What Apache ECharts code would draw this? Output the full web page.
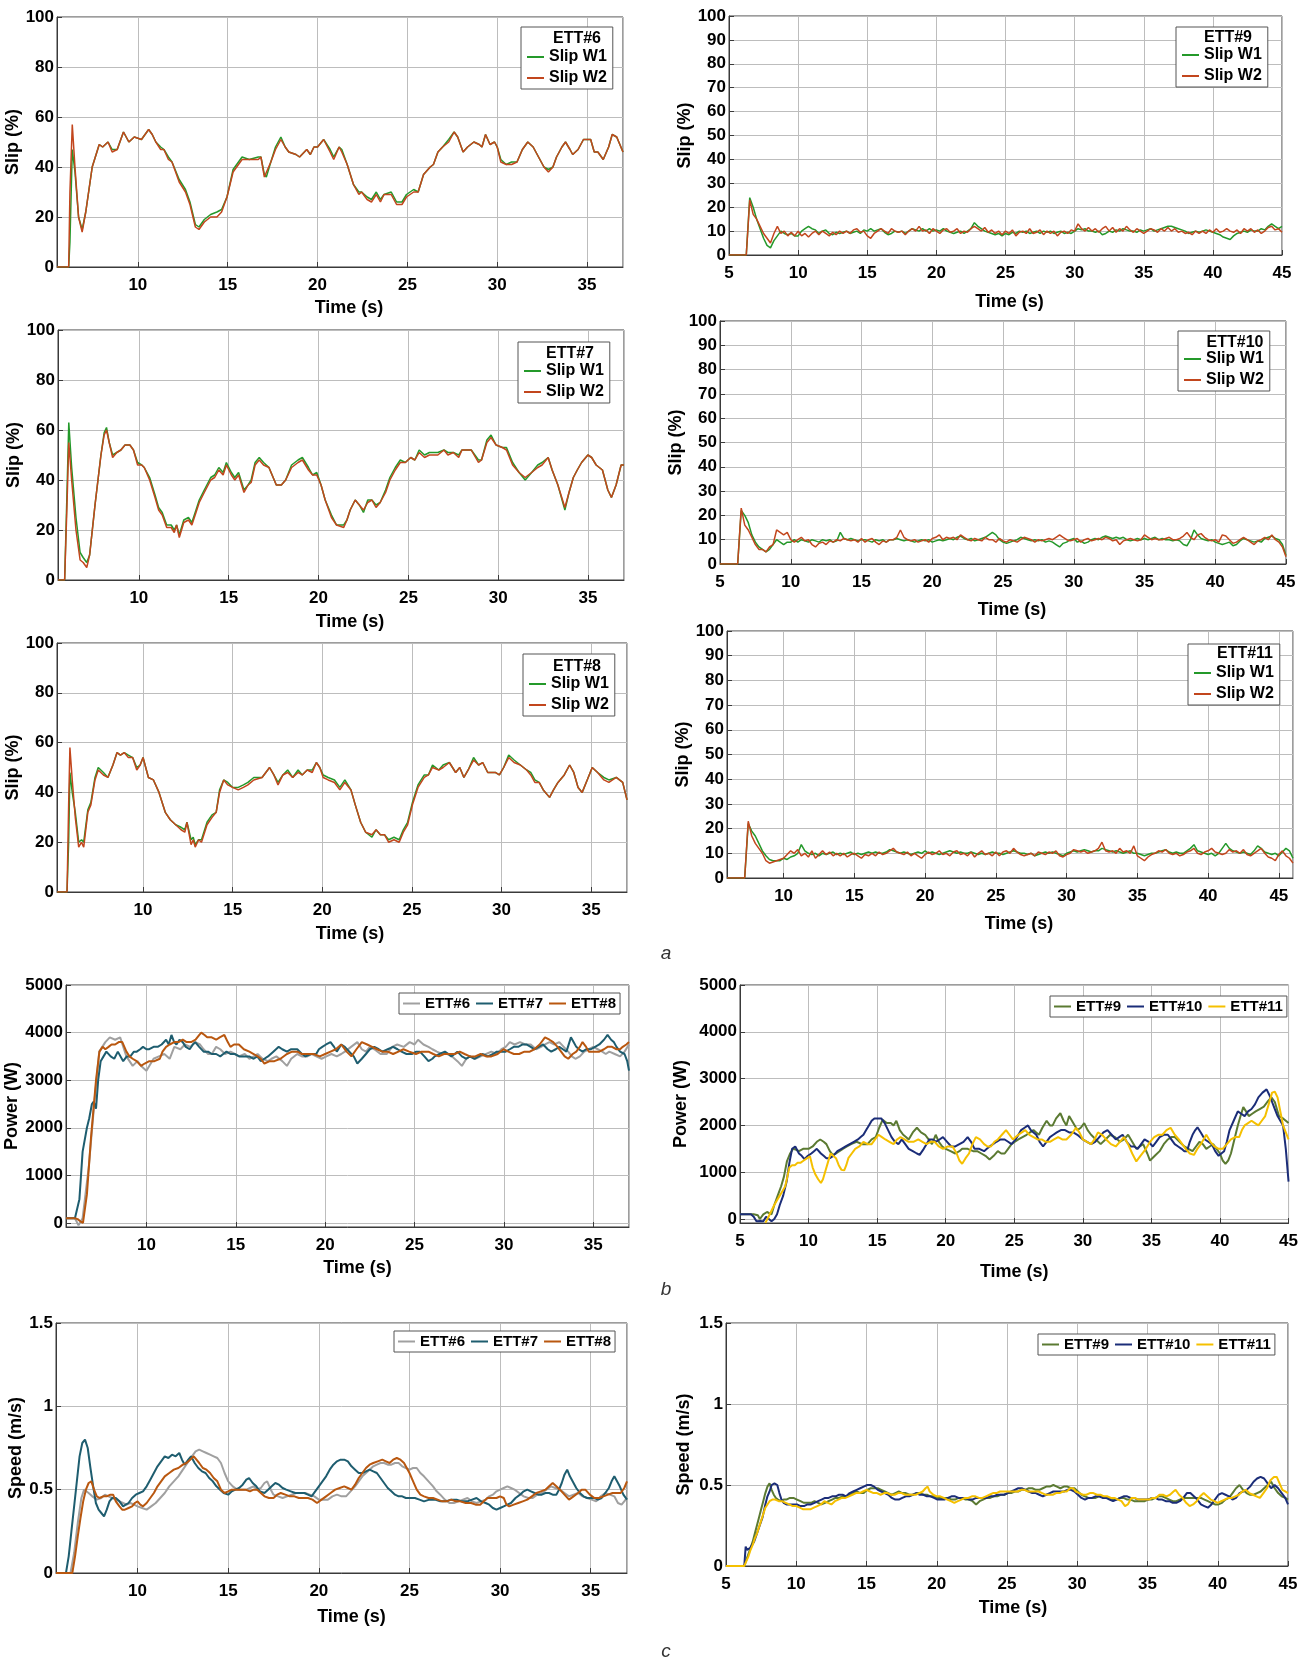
<!DOCTYPE html>
<html><head><meta charset="utf-8">
<script src="https://cdn.jsdelivr.net/npm/echarts@6/dist/echarts.min.js"></script>
<style>html,body{margin:0;padding:0;background:#fff}#c{width:1301px;height:1661px}</style>
</head><body><div id="c"></div>
<script>
// ---------------- DATA ----------------
// ETT#6 slip (time, W1, W2)
const ett6_t = [5.5,6.15,6.22,6.35,6.5,6.7,6.9,7.1,7.46,7.85,8.04,8.34,8.57,8.85,9.2,9.5,9.8,10.2,10.6,10.8,11.0,11.27,11.45,11.7,11.9,12.3,12.65,12.9,13.2,13.4,13.7,14.05,14.4,14.66,14.96,15.3,15.6,15.8,16.2,16.7,16.85,17.04,17.15,17.4,17.66,17.96,18.2,18.4,18.8,19.0,19.4,19.6,19.8,20.0,20.34,20.7,20.9,21.2,21.35,21.65,22.0,22.3,22.45,22.76,23.0,23.27,23.5,23.7,24.1,24.4,24.7,24.95,25.35,25.6,25.9,26.27,26.45,26.7,26.96,27.3,27.6,27.8,28.1,28.35,28.7,29.0,29.15,29.35,29.6,29.85,30.0,30.2,30.5,30.8,31.1,31.4,31.7,32.0,32.3,32.6,32.85,33.1,33.3,33.6,33.8,34.05,34.2,34.5,34.8,35.2,35.4,35.6,35.9,36.2,36.4,36.65,37.0];
const ett6_w2 = [0,0,30,57,40,20,14,22,40,49,48,50,46,47,54,50,52,51,55,53,50,47,47,43,42,34,30,25,16,15,18,20,20,22,28,38,41,43,43,43,44,36,36,42,47,51,48,46,45,44,47,45,48,48,51,46,43,48,46,41,33,29,30,27,26,29,26,29,29,25,25,28,30,30,37,40,41,46,48,50,54,52,46,48,50,49,48,53,49,50,48,42,41,41,42,47,50,48,44,40,38,40,44,48,50,47,45,47,51,51,46,46,43,48,53,52,46];
const ett6_w1 = [0,0,10,47,38,20,15,22,40,49,48,50,47,47,54,50,52,51,55,53,50,48,47,44,42,35,31,26,17,16,19,21,22,23,28,39,42,44,43,44,44,37,36,42,48,52,48,46,45,44,47,45,48,48,51,47,44,48,47,41,33,30,30,28,27,30,27,29,30,26,26,29,31,30,37,40,41,46,48,51,54,52,46,48,50,49,48,53,49,50,48,43,41,42,42,47,50,48,44,40,39,40,44,48,50,47,45,47,51,51,46,46,43,48,53,52,46];

// ETT#7 slip
const ett7_t = [5.5,5.87,6.0,6.1,6.26,6.5,6.73,6.9,7.1,7.26,7.56,7.89,8.07,8.2,8.35,8.54,8.77,9.0,9.23,9.5,9.7,9.93,10.16,10.3,10.6,10.9,11.1,11.3,11.55,11.8,11.97,12.1,12.25,12.5,12.76,12.95,13.18,13.36,13.64,14.0,14.22,14.45,14.69,14.87,15.15,15.34,15.55,15.85,16.08,16.25,16.47,16.7,16.94,17.24,17.65,17.93,18.17,18.5,18.86,19.1,19.44,19.67,19.9,20.14,20.37,20.72,21.0,21.4,21.58,21.76,22.04,22.27,22.5,22.74,22.97,23.2,23.43,23.73,23.97,24.27,24.55,24.83,25.13,25.36,25.6,25.9,26.17,26.64,26.98,27.2,27.5,27.8,27.98,28.5,28.9,29.07,29.37,29.6,29.88,30.23,30.46,30.8,31.16,31.5,31.86,32.2,32.44,32.78,33.0,33.32,33.71,33.94,34.18,34.4,34.64,34.99,35.2,35.45,35.8,36.1,36.3,36.56,36.84,37.0];
const ett7_w2 = [0,0,30,55,40,20,8,7,5,10,30,50,58,60,55,49,51,52,54,54,52,46,46,45,40,33,28,26,21,21,19,22,17,23,24,22,27,31,35,40,41,44,42,46,42,40,42,35,38,39,46,48,46,45,38,38,40,45,47,48,44,42,42,38,32,25,22,21,24,28,32,30,28,31,32,29,31,35,40,44,47,47,49,48,51,49,50,50,52,50,51,49,52,52,47,48,55,57,54,53,52,46,43,41,43,45,46,49,44,38,29,35,41,44,47,50,49,46,44,36,33,38,46,46];
const ett7_w1 = [0,0,35,63,45,25,11,9,7,10,30,50,59,61,55,50,51,52,54,54,52,47,46,45,41,34,29,27,22,22,20,22,18,24,25,23,28,32,36,41,42,45,43,47,43,41,43,36,38,40,47,49,47,45,38,38,40,46,48,49,45,42,43,38,32,26,22,22,24,28,32,30,27,32,32,30,31,36,41,45,48,47,49,48,52,50,51,51,52,51,51,50,52,52,48,48,56,58,54,53,53,47,43,40,43,46,47,49,44,38,28,35,41,44,47,50,49,46,44,36,33,38,46,46];

// ETT#8 slip
const ett8_t = [5.2,5.76,5.85,5.92,6.05,6.22,6.41,6.57,6.69,6.92,7.09,7.32,7.5,7.79,8.04,8.32,8.55,8.74,8.95,9.18,9.42,9.65,9.84,10.0,10.3,10.58,10.89,11.24,11.52,11.82,12.12,12.33,12.45,12.68,12.8,12.91,13.1,13.26,13.57,13.85,14.08,14.27,14.5,14.73,15.0,15.31,15.6,15.85,16.18,16.64,17.06,17.3,17.53,17.8,18.07,18.35,18.65,18.88,19.16,19.44,19.67,19.86,20.05,20.33,20.68,20.98,21.26,21.6,21.84,22.14,22.42,22.77,23.0,23.24,23.47,23.7,24.0,24.29,24.52,24.76,25.03,25.34,25.69,25.92,26.15,26.5,26.74,27.09,27.44,27.67,27.9,28.14,28.44,28.72,28.95,29.23,29.65,29.88,30.12,30.4,30.7,31.05,31.4,31.63,31.86,32.1,32.33,32.68,32.9,33.15,33.5,33.8,34.03,34.27,34.5,34.78,35.06,35.36,35.71,35.99,36.4,36.76,37.0];
const ett8_w2 = [0,0,35,58,45,30,18,20,18,32,35,45,49,47,46,51,56,55,56,54,54,49,51,54,46,45,40,32,29,27,25,24,28,19,21,18,21,20,27,30,32,40,45,43,42,41,42,43,45,46,50,47,43,47,48,46,48,47,49,48,52,50,46,45,44,41,44,41,35,28,24,23,25,23,23,20,21,20,24,27,35,42,46,47,50,49,50,52,48,50,46,49,53,51,52,48,48,47,50,54,52,51,49,47,44,44,41,38,41,44,47,51,48,42,40,45,50,48,45,44,46,44,37];
const ett8_w1 = [0,0,20,48,40,32,20,21,20,33,36,46,50,48,46,51,56,55,56,55,54,50,51,54,46,45,40,32,29,27,26,25,28,21,22,19,21,21,28,31,32,41,45,44,42,42,43,44,46,46,50,47,44,47,49,46,49,47,49,49,52,50,47,46,45,42,45,41,35,28,24,22,25,23,23,21,22,21,25,28,36,43,47,47,51,49,51,52,48,50,46,49,54,51,52,48,48,47,50,55,53,51,49,48,45,44,41,38,41,44,47,51,48,42,40,45,50,48,46,45,46,44,37];

// ETT#9 / #10 / #11 slip, sampled every 0.25 s
const ett9_start = 5, ett10_start = 5, ett11_start = 6, slipStep = 0.25;
const ett9_w2 = [0,0,0,0,0,0,23,17,15,12,9,7,5,9,12,9,10,8,9.5,8,10,
 8,9,7.5,9, 10,8.5,10,9, 8,9.5,8.5,10, 9,10,9,10.5, 11,9.5,10,8, 7,9,10,11, 10,9,11,10, 9.5,10,8.5,10, 11,10,12,10, 10.5,9,11,10,
 9,10.5,11,9.5, 10,11,9,10, 9.5,11,12,11, 10,11.5,9.5,10.5, 9,10,8.5,10, 9,10.5,8,9.5, 10,9,11,9, 9.5,10.5,8.5,10, 9,10,8,9.5, 10,9,10.5,10,
 13,11,10,11.5, 10,11,9.5,11, 12,10,11.5,9.5, 11,10,12,10.5, 9.5,11,10,9, 10,11,10.5,9.5, 11,10,11.5,10, 11,9.5,10,9, 9.5,8.5,10,9, 10,9,10.5,9.5,
 11,9.5,10,11, 10,9.5,10.5,9, 11,10,11,9.5, 10.5,9,10,11.5, 12,10.5,11,9.5];
const ett9_w1 = [0,0,0,0,0,0,24,20,15,11,7,4,3,6,8,10,9,8.5,9,8,8,
 10,11,12,11, 10.5,9,10,10.5, 9,8.5,9.5,9, 9.5,10,9,9.5, 10,9,10.5,10, 11,10,10.5,11, 9.5,8.5,9,10, 9.5,10,9,10, 11,10.5,10,11, 10,11,10,10.5,
 10,11,10,9.5, 9,9.5,10,9, 10,11,13.5,12, 11,10,9.5,9, 8.5,9,8,9, 8.5,9.5,9,10, 9.5,10,9,9.5, 10,9,10,9.5, 10,9,9.5,10, 9,9.5,9,10,
 11,10.5,11,10, 10,9.5,10,8.5, 9,10,9.5,10.5, 10,11,10.5,10, 10,9.5,10.5,10, 10.5,11,10,10.5, 11,11.5,12,12, 11.5,11,10.5,10, 9,9.5,10,9.5, 10,10.5,10,9.5,
 9,8.5,7.5,7, 6.5,8,9,9.5, 10,9.5,10.5,10, 10,11,10.5,12, 13,12,11,12];
const ett10_w2 = [0,0,0,0,0,0,23,16,14,11,8,6,6,5,7,8,14,13,12,13,10,
 9,10,11,9.5, 10,8,7,8.5, 9,8,9.5,9, 10,9.5,10.5,10, 9.5,10,9,10.5, 9,10,10.5,9, 8,9.5,9,10, 10,11,14,11, 10,9.5,10,9, 9.5,10,9,10.5,
 11,12,10,11, 10.5,11,10,12, 11,10,9.5,10.5, 10,9.5,11,10, 10,9,10.5,9.5, 9,10,9.5,9, 10,11,10.5,10, 9,10,9.5,10, 10.5,10,11,12, 11,10,9.5,10,
 10.5,9,10,10.5, 9.5,10,10.5,10, 11,10.5,9.5,10, 8,9.5,10,10.5, 10,9.5,10,12, 11,10,10.5,10, 10,10.5,11,10, 10,10.5,11.5,13, 11,10,12,12.5, 11,10,9.5,10,
 9,12,11.5,10, 8.5,9,10,11, 10,9,8,9.5, 10,11,10,12, 10,9,7,3];
const ett10_w1 = [0,0,0,0,0,0,22,20,17,12,9,7,6,5,6,8,10,9,8,9,9,
 10,9,10,9.5, 9,10,9.5,9, 10,9.5,10,9, 9.5,13,10.5,10, 10.5,10,9.5,10, 10,9.5,9,10, 9.5,10,9,10, 10,10.5,10,9.5, 10,9.5,9,9.5, 10,9.5,10,9,
 9.5,10,9.5,10, 10.5,10,11,11.5, 10.5,10,10.5,9.5, 10,10.5,11,12, 13,12,10,9, 8.5,9,9.5,10, 11,10.5,10,9.5, 10,9.5,10,9, 9.5,9,8,7, 8.5,9,10,10.5,
 9,9.5,8.5,9, 10,10.5,10,11, 11.5,11,10.5,11, 10.5,11,10,9.5, 10,10.5,10,10.5, 10,10.5,11,10, 10.5,10,10,9.5, 10,9.5,8,7.5, 10,14,12,10.5, 10,9.5,10,9,
 8.5,8,8.5,9, 7.5,8,9.5,10.5, 10,9.5,9,9.5, 9,10.5,11,11.5, 10.5,10,8,3.5];
const ett11_w2 = [0,0,0,0,0,0,23,17,14,12,10,7,6,6.5,7,7.5,8,
 9.5,11,10,11.5, 9,10,8.5,11, 8,9.5,11,9.5, 10.5,9,10,9, 10,8.5,9.5,10, 9,8,9.5,9, 10,9,10.5,9.5, 10,11,12,10.5, 10,9.5,10.5,9, 10,9,8,9.5,
 10.5,9.5,10,11, 9.5,10,9,10.5, 11,9.5,10,9, 10.5,8.5,10,11, 9.5,10,9,10.5, 9,10.5,11,10, 12,10.5,9.5,9, 9.5,10,9,10.5, 10,9.5,10.5,10, 11,9,8.5,9.5,
 10,11.5,11,10.5, 11,10,10.5,11, 12,14.5,11,10.5, 11,10,12,10.5, 11,10,13,9, 8,7,8.5,9.5, 10,11,10.5,11.5, 10,9.5,10,9, 9.5,10.5,11,12, 10,9.5,10.5,11,
 12,10.5,10,9.5, 10,11.5,10.5,11, 10,11.5,9.5,9, 10,11,12,10, 8.5,8,7,9.5, 11,9,8,6];
const ett11_w1 = [0,0,0,0,0,0,22,19,17,14,11,9,7.5,7,7,7,8,
 7.5,8.5,9,10, 13.5,11,10,9.5, 10,9,10,9.5, 10,10.5,9.5,10, 9.5,10,10.5,9.5, 10,9.5,10,10.5, 10,10.5,10,10, 10.5,11.5,11,10.5, 10,10.5,10,9.5, 10,10.5,10,11,
 10,10.5,10,9.5, 10,10.5,11,10.5, 10,10.5,10,10, 10.5,10,9.5,10, 9.5,10,10.5,10, 10,9.5,10,10.5, 11,10.5,10,10, 9.5,10,9,9.5, 10,10.5,10,10.5, 10,9.5,9,10,
 10.5,11,10.5,11, 11.5,11,10.5,11, 11,12,11.5,11, 10.5,11,10.5,10, 10.5,11,10,10, 9.5,9,9.5,10, 10,10.5,11,11.5, 10.5,10,10.5,10, 10,11,12,13.5, 11,10.5,10,9.5,
 10,9,10,12, 14,12,11,10.5, 10,10.5,10,9.5, 11,13,12,10.5, 10,9.5,10,9, 10.5,12,11,8];

// Power (W): [time, value]
const pow6 = [[5.5,100],[6.0,100],[6.2,-50],[6.43,100],[6.78,1200],[7.08,2500],[7.36,3600],[7.7,3800],[7.95,3900],[8.25,3850],[8.53,3900],[8.88,3500],[9.23,3300],[9.5,3400],[9.7,3300],[10.0,3200],[10.4,3450],[10.7,3500],[11.0,3550],[11.3,3450],[11.56,3700],[11.9,3650],[12.15,3750],[12.45,3700],[12.73,3800],[13.0,3750],[13.2,3650],[13.45,3550],[13.66,3550],[13.9,3700],[14.13,3650],[14.4,3550],[14.7,3600],[14.95,3550],[15.17,3500],[15.5,3550],[15.76,3450],[16.0,3500],[16.22,3550],[16.5,3450],[16.8,3400],[17.0,3450],[17.27,3500],[17.6,3400],[17.86,3300],[18.1,3450],[18.44,3550],[18.7,3500],[19.0,3500],[19.25,3550],[19.5,3500],[19.8,3450],[20.07,3500],[20.35,3550],[20.65,3500],[20.9,3550],[21.1,3600],[21.45,3700],[21.8,3800],[22.05,3650],[22.28,3600],[22.5,3700],[22.75,3650],[23.1,3550],[23.45,3550],[23.75,3700],[24.03,3750],[24.4,3700],[24.73,3800],[25.0,3750],[25.2,3850],[25.5,3750],[25.78,3700],[26.0,3650],[26.25,3600],[26.55,3550],[26.83,3550],[27.1,3500],[27.4,3400],[27.65,3300],[27.9,3450],[28.1,3500],[28.4,3450],[28.7,3500],[29.0,3550],[29.3,3600],[29.6,3550],[29.86,3650],[30.1,3700],[30.33,3800],[30.6,3750],[30.9,3800],[31.2,3750],[31.5,3750],[31.8,3650],[32.08,3700],[32.3,3750],[32.55,3800],[32.8,3750],[33.1,3800],[33.35,3700],[33.6,3600],[33.8,3500],[34.0,3450],[34.25,3500],[34.5,3600],[34.75,3650],[35.0,3700],[35.25,3650],[35.5,3600],[35.7,3550],[35.9,3600],[36.2,3550],[36.5,3500],[36.75,3600],[37.0,3750]];
const pow7 = [[5.5,100],[6.0,100],[6.08,100],[6.25,500],[6.43,1500],[6.67,2000],[6.8,2200],[6.95,2500],[7.05,2550],[7.18,2400],[7.3,3000],[7.44,3400],[7.6,3500],[7.76,3600],[8.0,3500],[8.2,3450],[8.4,3600],[8.7,3400],[8.9,3500],[9.1,3500],[9.3,3600],[9.46,3600],[9.65,3650],[9.81,3700],[10.0,3650],[10.16,3650],[10.4,3700],[10.63,3700],[10.85,3750],[11.1,3850],[11.25,3750],[11.4,3950],[11.55,3800],[11.68,3750],[11.85,3850],[12.03,3800],[12.2,3700],[12.42,3650],[12.6,3750],[12.73,3800],[12.95,3700],[13.2,3600],[13.45,3600],[13.66,3550],[13.9,3550],[14.13,3500],[14.3,3550],[14.48,3600],[14.7,3550],[14.94,3550],[15.2,3500],[15.5,3500],[15.75,3500],[16.0,3450],[16.2,3500],[16.4,3400],[16.6,3450],[16.8,3500],[17.1,3600],[17.4,3700],[17.6,3650],[17.86,3600],[18.1,3650],[18.44,3650],[18.7,3550],[18.9,3500],[19.2,3550],[19.5,3550],[19.65,3650],[19.84,3700],[20.05,3750],[20.3,3800],[20.5,3700],[20.65,3600],[20.9,3750],[21.1,3700],[21.35,3600],[21.6,3500],[21.8,3350],[22.05,3450],[22.28,3550],[22.5,3650],[22.75,3700],[23.0,3650],[23.2,3600],[23.5,3650],[23.8,3700],[24.05,3650],[24.27,3600],[24.55,3550],[24.85,3550],[25.1,3600],[25.3,3600],[25.55,3500],[25.78,3400],[26.0,3450],[26.13,3500],[26.4,3550],[26.7,3600],[26.9,3550],[27.06,3500],[27.25,3550],[27.4,3600],[27.65,3500],[27.9,3450],[28.1,3500],[28.35,3450],[28.6,3500],[28.8,3550],[29.1,3500],[29.4,3550],[29.6,3600],[29.86,3600],[30.1,3600],[30.33,3650],[30.55,3700],[30.8,3700],[31.05,3750],[31.26,3750],[31.5,3700],[31.7,3650],[31.95,3700],[32.2,3750],[32.45,3650],[32.65,3600],[32.9,3650],[33.1,3700],[33.3,3650],[33.5,3600],[33.75,3900],[33.9,3800],[34.05,3700],[34.2,3650],[34.4,3600],[34.6,3650],[34.87,3650],[35.1,3700],[35.34,3750],[35.6,3850],[35.8,3950],[36.0,3850],[36.15,3800],[36.3,3700],[36.5,3600],[36.75,3550],[36.9,3400],[37.0,3200]];
const pow8 = [[5.5,100],[6.0,100],[6.15,80],[6.32,30],[6.45,0],[6.67,600],[6.9,1800],[7.18,3000],[7.37,3600],[7.55,3700],[7.7,3650],[7.88,3700],[8.05,3750],[8.25,3750],[8.45,3800],[8.65,3800],[8.88,3600],[9.05,3500],[9.23,3450],[9.45,3400],[9.7,3300],[9.9,3350],[10.16,3400],[10.45,3400],[10.75,3450],[10.9,3600],[11.1,3700],[11.3,3750],[11.56,3800],[11.8,3800],[12.03,3850],[12.25,3800],[12.5,3800],[12.75,3850],[12.96,3950],[13.07,4000],[13.25,3950],[13.4,3900],[13.65,3900],[13.9,3850],[14.1,3900],[14.36,3950],[14.55,3800],[14.7,3700],[14.9,3750],[15.17,3750],[15.45,3650],[15.76,3600],[16.0,3550],[16.22,3500],[16.4,3450],[16.6,3350],[16.9,3400],[17.16,3400],[17.5,3450],[17.86,3550],[18.15,3600],[18.44,3600],[18.7,3550],[19.0,3550],[19.35,3550],[19.7,3500],[20.0,3550],[20.3,3600],[20.6,3650],[20.9,3750],[21.2,3600],[21.47,3500],[21.75,3650],[22.05,3800],[22.35,3750],[22.63,3700],[22.9,3650],[23.2,3600],[23.5,3600],[23.8,3550],[24.1,3600],[24.38,3650],[24.7,3600],[25.08,3550],[25.4,3600],[25.78,3600],[26.05,3550],[26.36,3500],[26.65,3550],[26.95,3550],[27.25,3550],[27.53,3600],[27.8,3550],[28.1,3500],[28.4,3500],[28.7,3550],[29.0,3500],[29.3,3500],[29.65,3550],[29.98,3650],[30.25,3600],[30.56,3550],[30.85,3550],[31.15,3600],[31.45,3600],[31.7,3650],[32.0,3750],[32.3,3900],[32.55,3850],[32.76,3800],[33.0,3700],[33.2,3600],[33.4,3500],[33.6,3450],[33.85,3550],[34.05,3600],[34.25,3700],[34.4,3800],[34.6,3700],[34.75,3600],[35.0,3600],[35.34,3600],[35.6,3650],[35.8,3700],[36.05,3700],[36.3,3650],[36.5,3650],[36.65,3700],[36.85,3750],[37.0,3800]];
const pow9 = [[5,100],[6.0,100],[6.3,80],[6.45,0],[6.7,100],[6.97,150],[7.3,100],[7.5,300],[7.75,500],[8.0,700],[8.2,900],[8.42,1230],[8.65,1400],[8.88,1500],[9.1,1480],[9.3,1450],[9.6,1500],[10.0,1500],[10.3,1550],[10.6,1650],[10.85,1700],[11.1,1650],[11.3,1600],[11.55,1450],[11.76,1370],[12.0,1400],[12.25,1450],[12.5,1500],[12.8,1550],[13.1,1600],[13.5,1650],[13.9,1600],[14.3,1600],[14.6,1700],[14.9,1750],[15.15,1950],[15.4,2120],[15.7,2050],[16.0,2050],[16.2,2000],[16.4,2100],[16.65,1900],[16.9,1800],[17.1,1750],[17.3,1700],[17.6,1850],[17.9,1950],[18.2,1850],[18.5,1800],[18.75,1700],[19.0,1600],[19.27,1800],[19.5,1650],[19.75,1550],[20.0,1500],[20.35,1450],[20.7,1400],[21.0,1450],[21.2,1500],[21.6,1500],[22.0,1450],[22.3,1450],[22.6,1400],[22.9,1350],[23.2,1270],[23.5,1350],[23.8,1450],[24.05,1400],[24.3,1400],[24.55,1500],[24.8,1600],[25.05,1650],[25.3,1700],[25.6,1750],[25.9,1800],[26.15,1850],[26.4,1900],[26.6,1850],[26.8,1800],[27.05,1950],[27.36,2100],[27.6,2000],[27.8,2000],[28.05,2150],[28.36,2260],[28.6,2100],[28.8,2000],[29.0,2200],[29.3,2050],[29.6,1900],[29.85,1950],[30.1,2050],[30.35,1900],[30.6,1800],[30.95,1700],[31.3,1600],[31.65,1700],[32.0,1800],[32.35,1750],[32.7,1650],[33.0,1700],[33.3,1800],[33.6,1650],[33.9,1500],[34.15,1550],[34.4,1600],[34.7,1400],[34.9,1250],[35.25,1350],[35.6,1450],[35.9,1600],[36.2,1700],[36.45,1750],[36.7,1750],[37.05,1650],[37.4,1550],[37.7,1500],[38.0,1450],[38.25,1550],[38.5,1650],[38.75,1600],[39.0,1500],[39.25,1550],[39.5,1600],[39.75,1500],[40.0,1400],[40.2,1250],[40.4,1180],[40.6,1250],[40.8,1400],[41.05,1700],[41.3,2000],[41.5,2200],[41.7,2390],[41.9,2300],[42.1,2200],[42.35,2250],[42.6,2300],[42.9,2350],[43.2,2400],[43.45,2500],[43.75,2600],[44.0,2500],[44.3,2200],[44.6,2150],[44.8,2100],[45,2050]];
const pow10 = [[5,100],[5.8,100],[6.0,50],[6.2,-50],[6.5,-40],[6.7,-50],[6.9,50],[7.1,0],[7.3,-50],[7.5,0],[7.7,100],[7.9,300],[8.15,500],[8.4,800],[8.6,1200],[8.8,1500],[9.03,1550],[9.3,1400],[9.5,1350],[9.7,1280],[9.95,1350],[10.2,1400],[10.4,1450],[10.6,1500],[10.9,1400],[11.1,1350],[11.3,1300],[11.55,1300],[11.8,1350],[12.1,1450],[12.4,1500],[12.7,1550],[13.0,1600],[13.3,1650],[13.6,1700],[13.8,1750],[14.0,1800],[14.2,1900],[14.4,2000],[14.6,2100],[14.8,2150],[15.05,2150],[15.3,2150],[15.55,2050],[15.8,1900],[16.05,1750],[16.3,1650],[16.55,1600],[16.8,1700],[17.05,1600],[17.3,1500],[17.6,1450],[17.9,1400],[18.1,1370],[18.4,1500],[18.6,1600],[18.8,1700],[19.05,1700],[19.3,1650],[19.55,1700],[19.8,1750],[20.1,1650],[20.4,1550],[20.7,1550],[21.0,1600],[21.3,1650],[21.6,1750],[21.85,1650],[22.1,1500],[22.45,1500],[22.8,1450],[23.0,1500],[23.2,1550],[23.45,1600],[23.7,1650],[24.0,1700],[24.3,1700],[24.55,1650],[24.8,1600],[25.1,1700],[25.3,1800],[25.5,1900],[25.75,1950],[26.0,2000],[26.2,1900],[26.4,1850],[26.6,1800],[26.85,1650],[27.1,1550],[27.35,1650],[27.6,1750],[27.85,1800],[28.1,1850],[28.4,1900],[28.7,1900],[29.0,1850],[29.3,1850],[29.6,1800],[30.0,1700],[30.3,1650],[30.6,1600],[30.9,1650],[31.2,1750],[31.5,1850],[31.8,1900],[32.1,1800],[32.4,1700],[32.65,1750],[32.9,1800],[33.2,1650],[33.5,1550],[33.75,1550],[34.0,1500],[34.25,1600],[34.5,1700],[34.8,1650],[35.1,1550],[35.35,1650],[35.6,1750],[35.9,1800],[36.2,1800],[36.45,1700],[36.7,1600],[36.95,1550],[37.2,1500],[37.4,1450],[37.6,1450],[37.8,1650],[38.0,1800],[38.2,1900],[38.36,1960],[38.6,1850],[38.9,1700],[39.15,1650],[39.4,1600],[39.65,1450],[39.9,1350],[40.1,1400],[40.3,1450],[40.5,1650],[40.7,1900],[41.0,2100],[41.3,2300],[41.55,2250],[41.8,2200],[42.05,2300],[42.3,2350],[42.55,2450],[42.8,2600],[43.1,2700],[43.4,2770],[43.6,2650],[43.8,2500],[44.0,2350],[44.2,2200],[44.4,2100],[44.6,2000],[44.8,1500],[45,800]];
const pow11 = [[6.85,-80],[7.0,0],[7.25,150],[7.5,300],[7.7,400],[7.9,500],[8.1,600],[8.3,700],[8.45,900],[8.6,1100],[8.8,1150],[9.0,1150],[9.2,1200],[9.4,1200],[9.65,1250],[9.9,1300],[10.1,1340],[10.3,1100],[10.5,950],[10.7,850],[10.9,770],[11.05,850],[11.2,1000],[11.4,1200],[11.6,1400],[11.8,1350],[12.0,1300],[12.2,1150],[12.4,1050],[12.6,1040],[12.75,1150],[12.9,1300],[13.15,1400],[13.4,1500],[13.7,1550],[14.0,1650],[14.3,1600],[14.6,1600],[14.85,1700],[15.1,1800],[15.35,1750],[15.6,1700],[15.9,1650],[16.2,1600],[16.45,1700],[16.7,1750],[17.0,1700],[17.3,1650],[17.65,1650],[18.0,1700],[18.3,1650],[18.6,1600],[18.9,1650],[19.2,1650],[19.5,1550],[19.8,1500],[20.15,1550],[20.5,1550],[20.8,1400],[21.0,1250],[21.2,1180],[21.45,1300],[21.7,1400],[21.95,1600],[22.2,1750],[22.5,1700],[22.8,1600],[23.05,1550],[23.3,1550],[23.55,1650],[23.8,1700],[24.1,1800],[24.4,1900],[24.65,1800],[24.9,1700],[25.1,1750],[25.3,1800],[25.55,1850],[25.8,1900],[26.1,1800],[26.4,1750],[26.7,1700],[27.0,1700],[27.3,1650],[27.6,1650],[27.9,1700],[28.2,1750],[28.5,1700],[28.8,1700],[29.15,1800],[29.5,1950],[29.75,1850],[30.0,1700],[30.3,1650],[30.6,1600],[30.85,1700],[31.1,1850],[31.4,1800],[31.7,1700],[32.05,1600],[32.4,1550],[32.7,1650],[33.0,1750],[33.3,1600],[33.6,1400],[33.9,1230],[34.2,1350],[34.6,1500],[34.9,1650],[35.2,1750],[35.5,1800],[35.8,1800],[36.1,1900],[36.4,1950],[36.7,1800],[37.0,1700],[37.25,1600],[37.5,1500],[37.8,1400],[38.1,1370],[38.35,1500],[38.6,1600],[38.8,1700],[39.0,1800],[39.3,1650],[39.6,1550],[39.9,1500],[40.2,1500],[40.5,1600],[40.8,1700],[41.1,1750],[41.4,1750],[41.6,1900],[41.8,2000],[42.05,2050],[42.3,2100],[42.55,2050],[42.8,2000],[43.05,2100],[43.3,2200],[43.55,2450],[43.8,2700],[44.0,2720],[44.2,2600],[44.4,2300],[44.6,2000],[44.8,1850],[45,1700]];

// Speed (m/s): [time, value]
const spd6 = [[5.5,0],[6.3,0],[6.5,0.12],[6.7,0.3],[6.9,0.45],[7.05,0.5],[7.3,0.48],[7.5,0.46],[7.75,0.44],[8.0,0.45],[8.2,0.47],[8.4,0.46],[8.6,0.45],[8.8,0.44],[9.0,0.43],[9.2,0.42],[9.4,0.41],[9.6,0.42],[9.8,0.41],[10.0,0.4],[10.25,0.39],[10.5,0.38],[10.75,0.4],[11.0,0.42],[11.25,0.45],[11.5,0.48],[11.75,0.52],[12.0,0.55],[12.25,0.58],[12.5,0.62],[12.75,0.66],[13.0,0.7],[13.2,0.73],[13.4,0.74],[13.6,0.73],[13.8,0.72],[14.0,0.71],[14.2,0.7],[14.4,0.69],[14.6,0.66],[14.8,0.6],[15.0,0.55],[15.25,0.52],[15.5,0.5],[15.75,0.5],[16.0,0.5],[16.2,0.51],[16.4,0.52],[16.6,0.5],[16.8,0.51],[17.0,0.54],[17.15,0.55],[17.35,0.5],[17.5,0.47],[17.75,0.46],[18.0,0.45],[18.25,0.46],[18.5,0.47],[18.75,0.48],[19.0,0.48],[19.25,0.48],[19.5,0.47],[19.75,0.46],[20.0,0.44],[20.25,0.44],[20.5,0.44],[20.75,0.46],[21.0,0.47],[21.25,0.46],[21.5,0.46],[21.75,0.49],[22.0,0.52],[22.2,0.55],[22.4,0.58],[22.6,0.6],[22.8,0.62],[23.0,0.64],[23.2,0.65],[23.4,0.66],[23.6,0.66],[23.8,0.65],[24.0,0.65],[24.2,0.66],[24.4,0.66],[24.6,0.64],[24.8,0.63],[25.0,0.62],[25.2,0.63],[25.4,0.63],[25.6,0.6],[25.8,0.58],[26.05,0.55],[26.3,0.52],[26.5,0.49],[26.7,0.47],[26.95,0.44],[27.2,0.42],[27.45,0.42],[27.7,0.43],[27.95,0.44],[28.2,0.45],[28.45,0.43],[28.7,0.42],[28.95,0.43],[29.2,0.44],[29.4,0.46],[29.6,0.47],[29.8,0.49],[30.0,0.5],[30.2,0.51],[30.4,0.52],[30.6,0.51],[30.8,0.5],[31.05,0.48],[31.3,0.46],[31.55,0.45],[31.8,0.45],[32.05,0.47],[32.3,0.48],[32.55,0.5],[32.8,0.52],[33.05,0.51],[33.3,0.5],[33.55,0.48],[33.8,0.46],[34.05,0.47],[34.3,0.48],[34.55,0.46],[34.8,0.45],[35.05,0.44],[35.3,0.43],[35.55,0.46],[35.8,0.48],[36.05,0.47],[36.3,0.46],[36.5,0.42],[36.7,0.41],[36.85,0.43],[37.0,0.45]];
const spd7 = [[5.5,0],[6.05,0],[6.2,0.1],[6.35,0.25],[6.5,0.4],[6.65,0.55],[6.8,0.7],[6.95,0.78],[7.1,0.8],[7.25,0.75],[7.4,0.63],[7.55,0.52],[7.7,0.42],[7.85,0.38],[8.0,0.36],[8.15,0.34],[8.3,0.38],[8.45,0.43],[8.6,0.45],[8.8,0.45],[9.0,0.43],[9.2,0.4],[9.35,0.41],[9.5,0.42],[9.7,0.45],[9.9,0.47],[10.1,0.48],[10.3,0.49],[10.5,0.52],[10.7,0.56],[10.9,0.6],[11.1,0.64],[11.3,0.67],[11.5,0.7],[11.7,0.69],[11.9,0.71],[12.1,0.7],[12.3,0.72],[12.45,0.68],[12.6,0.65],[12.8,0.68],[12.95,0.7],[13.15,0.66],[13.35,0.63],[13.55,0.61],[13.75,0.6],[13.95,0.57],[14.15,0.55],[14.35,0.52],[14.55,0.5],[14.75,0.48],[15.0,0.47],[15.2,0.49],[15.4,0.5],[15.6,0.51],[15.8,0.53],[16.0,0.56],[16.15,0.57],[16.35,0.54],[16.55,0.52],[16.75,0.49],[17.0,0.48],[17.2,0.5],[17.4,0.52],[17.6,0.54],[17.8,0.53],[18.0,0.51],[18.2,0.5],[18.45,0.49],[18.7,0.48],[18.95,0.48],[19.2,0.48],[19.4,0.47],[19.6,0.46],[19.8,0.49],[20.0,0.52],[20.2,0.55],[20.4,0.58],[20.6,0.62],[20.8,0.65],[21.0,0.67],[21.2,0.68],[21.4,0.68],[21.6,0.67],[21.8,0.64],[22.0,0.62],[22.2,0.6],[22.4,0.6],[22.6,0.61],[22.8,0.62],[23.0,0.61],[23.2,0.6],[23.4,0.57],[23.6,0.54],[23.8,0.51],[24.0,0.49],[24.2,0.47],[24.4,0.46],[24.6,0.46],[24.8,0.45],[25.05,0.45],[25.3,0.45],[25.55,0.44],[25.8,0.43],[26.1,0.44],[26.4,0.44],[26.7,0.43],[27.0,0.43],[27.3,0.44],[27.6,0.44],[27.9,0.43],[28.2,0.43],[28.45,0.44],[28.7,0.45],[28.95,0.43],[29.2,0.42],[29.4,0.41],[29.6,0.39],[29.8,0.38],[30.0,0.39],[30.2,0.4],[30.4,0.41],[30.6,0.42],[30.85,0.45],[31.1,0.47],[31.3,0.49],[31.5,0.5],[31.7,0.49],[31.9,0.48],[32.1,0.47],[32.3,0.47],[32.5,0.48],[32.7,0.48],[32.9,0.47],[33.1,0.47],[33.25,0.5],[33.4,0.54],[33.55,0.59],[33.7,0.62],[33.85,0.58],[34.0,0.55],[34.2,0.51],[34.4,0.48],[34.6,0.46],[34.8,0.45],[35.0,0.45],[35.2,0.45],[35.4,0.44],[35.6,0.45],[35.8,0.48],[36.0,0.51],[36.15,0.55],[36.3,0.58],[36.45,0.55],[36.6,0.52],[36.8,0.47],[37.0,0.44]];
const spd8 = [[5.5,0],[6.4,0],[6.55,0.1],[6.7,0.22],[6.85,0.33],[7.0,0.43],[7.15,0.5],[7.3,0.54],[7.45,0.55],[7.6,0.5],[7.75,0.46],[7.9,0.45],[8.1,0.46],[8.3,0.46],[8.5,0.47],[8.65,0.47],[8.8,0.43],[9.0,0.4],[9.15,0.38],[9.3,0.38],[9.5,0.39],[9.7,0.4],[9.85,0.42],[10.0,0.43],[10.15,0.41],[10.3,0.4],[10.5,0.42],[10.7,0.45],[10.9,0.48],[11.1,0.52],[11.3,0.55],[11.5,0.58],[11.75,0.6],[12.0,0.62],[12.25,0.63],[12.5,0.65],[12.7,0.66],[12.9,0.68],[13.1,0.7],[13.25,0.68],[13.4,0.66],[13.6,0.63],[13.8,0.62],[14.0,0.6],[14.2,0.57],[14.4,0.55],[14.6,0.5],[14.8,0.48],[15.0,0.49],[15.2,0.5],[15.45,0.5],[15.7,0.5],[15.95,0.5],[16.2,0.49],[16.4,0.5],[16.6,0.5],[16.8,0.48],[17.0,0.46],[17.25,0.45],[17.5,0.45],[17.7,0.47],[17.9,0.48],[18.15,0.47],[18.4,0.46],[18.65,0.46],[18.9,0.45],[19.15,0.45],[19.4,0.45],[19.65,0.44],[19.9,0.42],[20.15,0.44],[20.4,0.46],[20.65,0.48],[20.9,0.5],[21.15,0.51],[21.4,0.52],[21.6,0.51],[21.8,0.5],[22.0,0.53],[22.2,0.57],[22.4,0.6],[22.6,0.63],[22.8,0.65],[23.0,0.66],[23.25,0.67],[23.5,0.68],[23.7,0.67],[23.9,0.66],[24.1,0.68],[24.3,0.69],[24.5,0.68],[24.7,0.66],[24.85,0.63],[25.0,0.6],[25.2,0.55],[25.4,0.5],[25.6,0.47],[25.8,0.46],[26.05,0.45],[26.3,0.45],[26.55,0.44],[26.8,0.43],[27.05,0.43],[27.3,0.44],[27.55,0.43],[27.8,0.43],[28.1,0.42],[28.4,0.42],[28.65,0.41],[28.9,0.41],[29.1,0.43],[29.3,0.45],[29.55,0.45],[29.8,0.45],[30.0,0.46],[30.2,0.45],[30.35,0.41],[30.5,0.4],[30.75,0.41],[31.0,0.42],[31.25,0.43],[31.5,0.44],[31.75,0.46],[32.0,0.48],[32.25,0.49],[32.5,0.5],[32.7,0.52],[32.9,0.54],[33.1,0.52],[33.3,0.5],[33.55,0.47],[33.8,0.44],[34.05,0.46],[34.3,0.48],[34.5,0.5],[34.7,0.5],[34.95,0.47],[35.2,0.45],[35.45,0.45],[35.7,0.46],[35.95,0.47],[36.2,0.48],[36.45,0.48],[36.65,0.48],[36.85,0.51],[37.0,0.55]];
const spd9 = [[5,0],[6.3,0],[6.5,0.05],[6.7,0.1],[6.9,0.15],[7.05,0.2],[7.2,0.25],[7.35,0.3],[7.5,0.35],[7.65,0.4],[7.8,0.45],[7.95,0.49],[8.1,0.51],[8.25,0.47],[8.4,0.44],[8.55,0.42],[8.7,0.41],[8.9,0.4],[9.1,0.41],[9.3,0.41],[9.55,0.42],[9.8,0.42],[10.05,0.41],[10.3,0.4],[10.55,0.39],[10.8,0.39],[11.05,0.39],[11.3,0.4],[11.55,0.39],[11.8,0.38],[12.05,0.39],[12.3,0.4],[12.55,0.41],[12.8,0.42],[13.05,0.42],[13.3,0.43],[13.55,0.43],[13.8,0.44],[14.05,0.45],[14.3,0.46],[14.55,0.45],[14.8,0.45],[15.05,0.47],[15.3,0.48],[15.55,0.48],[15.8,0.48],[16.05,0.47],[16.3,0.46],[16.55,0.45],[16.8,0.44],[17.05,0.45],[17.3,0.46],[17.55,0.45],[17.8,0.45],[18.05,0.44],[18.3,0.44],[18.55,0.45],[18.8,0.45],[19.05,0.44],[19.3,0.44],[19.55,0.43],[19.8,0.43],[20.05,0.42],[20.3,0.42],[20.55,0.42],[20.8,0.42],[21.05,0.41],[21.3,0.41],[21.55,0.42],[21.8,0.42],[22.05,0.41],[22.3,0.41],[22.55,0.4],[22.8,0.38],[23.05,0.4],[23.3,0.41],[23.55,0.42],[23.8,0.42],[24.05,0.43],[24.3,0.43],[24.55,0.44],[24.8,0.44],[25.05,0.45],[25.3,0.45],[25.55,0.46],[25.8,0.46],[26.05,0.47],[26.3,0.47],[26.55,0.48],[26.8,0.48],[27.05,0.47],[27.3,0.47],[27.55,0.48],[27.8,0.49],[28.05,0.49],[28.3,0.5],[28.55,0.49],[28.8,0.48],[29.05,0.49],[29.3,0.49],[29.55,0.48],[29.8,0.48],[30.05,0.46],[30.3,0.44],[30.55,0.43],[30.8,0.42],[31.05,0.42],[31.3,0.42],[31.55,0.43],[31.8,0.43],[32.05,0.42],[32.3,0.42],[32.55,0.41],[32.8,0.41],[33.05,0.42],[33.3,0.42],[33.55,0.41],[33.8,0.41],[34.05,0.4],[34.3,0.4],[34.55,0.4],[34.8,0.4],[35.05,0.41],[35.3,0.41],[35.55,0.42],[35.8,0.43],[36.05,0.43],[36.3,0.42],[36.55,0.41],[36.8,0.4],[37.05,0.4],[37.3,0.41],[37.55,0.42],[37.8,0.42],[38.05,0.42],[38.3,0.42],[38.55,0.42],[38.8,0.42],[39.05,0.41],[39.3,0.4],[39.55,0.39],[39.8,0.38],[40.05,0.38],[40.3,0.39],[40.55,0.41],[40.8,0.42],[41.05,0.45],[41.3,0.48],[41.55,0.5],[41.8,0.47],[42.05,0.45],[42.3,0.44],[42.55,0.44],[42.8,0.45],[43.05,0.46],[43.3,0.48],[43.55,0.5],[43.8,0.52],[44.05,0.48],[44.3,0.45],[44.55,0.43],[44.8,0.42],[45,0.41]];
const spd10 = [[5,0],[6.3,0],[6.4,0.12],[6.5,0.1],[6.6,0.09],[6.7,0.11],[6.8,0.12],[7.0,0.15],[7.2,0.2],[7.4,0.25],[7.6,0.3],[7.8,0.38],[7.95,0.43],[8.1,0.46],[8.25,0.5],[8.45,0.51],[8.65,0.5],[8.8,0.45],[8.95,0.41],[9.1,0.39],[9.3,0.38],[9.55,0.38],[9.8,0.38],[10.05,0.38],[10.3,0.37],[10.55,0.37],[10.8,0.38],[11.05,0.38],[11.3,0.39],[11.55,0.4],[11.8,0.41],[12.05,0.42],[12.3,0.42],[12.55,0.43],[12.8,0.43],[13.05,0.44],[13.3,0.44],[13.55,0.43],[13.8,0.45],[14.05,0.46],[14.3,0.47],[14.55,0.48],[14.8,0.49],[15.05,0.5],[15.3,0.5],[15.55,0.49],[15.8,0.47],[16.05,0.46],[16.3,0.45],[16.55,0.44],[16.8,0.42],[17.05,0.41],[17.3,0.41],[17.55,0.42],[17.8,0.43],[18.05,0.43],[18.3,0.44],[18.55,0.45],[18.8,0.44],[19.05,0.44],[19.3,0.43],[19.55,0.43],[19.8,0.42],[20.05,0.41],[20.3,0.41],[20.55,0.41],[20.8,0.42],[21.05,0.43],[21.3,0.43],[21.55,0.42],[21.8,0.42],[22.05,0.42],[22.3,0.41],[22.55,0.41],[22.8,0.42],[23.05,0.42],[23.3,0.42],[23.55,0.42],[23.8,0.43],[24.05,0.43],[24.3,0.44],[24.55,0.44],[24.8,0.44],[25.05,0.45],[25.3,0.46],[25.55,0.47],[25.8,0.48],[26.05,0.48],[26.3,0.47],[26.55,0.46],[26.8,0.45],[27.05,0.45],[27.3,0.44],[27.55,0.43],[27.8,0.44],[28.05,0.45],[28.3,0.46],[28.55,0.46],[28.8,0.46],[29.05,0.46],[29.3,0.47],[29.55,0.47],[29.8,0.46],[30.05,0.44],[30.3,0.42],[30.55,0.41],[30.8,0.42],[31.05,0.42],[31.3,0.43],[31.55,0.43],[31.8,0.42],[32.05,0.42],[32.3,0.41],[32.55,0.4],[32.8,0.41],[33.05,0.42],[33.3,0.43],[33.55,0.43],[33.8,0.42],[34.05,0.42],[34.3,0.41],[34.55,0.41],[34.8,0.41],[35.05,0.41],[35.3,0.42],[35.55,0.42],[35.8,0.41],[36.05,0.41],[36.3,0.4],[36.55,0.4],[36.8,0.39],[37.05,0.39],[37.3,0.4],[37.55,0.42],[37.8,0.45],[38.05,0.45],[38.3,0.43],[38.55,0.41],[38.8,0.38],[39.05,0.37],[39.3,0.36],[39.55,0.38],[39.8,0.41],[40.05,0.44],[40.3,0.45],[40.55,0.44],[40.8,0.43],[41.05,0.41],[41.3,0.42],[41.55,0.45],[41.8,0.46],[42.05,0.47],[42.3,0.49],[42.55,0.52],[42.8,0.54],[43.05,0.55],[43.3,0.54],[43.55,0.51],[43.8,0.48],[44.05,0.5],[44.3,0.48],[44.55,0.45],[44.8,0.42],[45,0.38]];
const spd11 = [[5,0],[6.3,0],[6.45,0.03],[6.6,0.06],[6.75,0.1],[6.9,0.13],[7.05,0.17],[7.2,0.2],[7.35,0.24],[7.5,0.28],[7.65,0.32],[7.8,0.36],[7.95,0.38],[8.1,0.4],[8.3,0.41],[8.5,0.41],[8.75,0.4],[9.0,0.4],[9.25,0.39],[9.5,0.38],[9.75,0.37],[10.0,0.37],[10.25,0.36],[10.5,0.35],[10.75,0.35],[11.0,0.35],[11.25,0.36],[11.5,0.37],[11.75,0.38],[12.0,0.4],[12.25,0.39],[12.5,0.38],[12.75,0.4],[13.0,0.41],[13.25,0.42],[13.5,0.42],[13.75,0.43],[14.0,0.44],[14.25,0.45],[14.5,0.45],[14.75,0.46],[15.0,0.47],[15.25,0.46],[15.5,0.45],[15.75,0.45],[16.0,0.44],[16.25,0.45],[16.5,0.45],[16.75,0.44],[17.0,0.44],[17.25,0.45],[17.5,0.45],[17.75,0.44],[18.0,0.44],[18.25,0.44],[18.5,0.44],[18.75,0.45],[19.0,0.46],[19.2,0.48],[19.35,0.49],[19.5,0.46],[19.75,0.44],[20.0,0.43],[20.25,0.43],[20.5,0.42],[20.75,0.41],[21.0,0.4],[21.25,0.39],[21.5,0.4],[21.75,0.41],[22.0,0.42],[22.25,0.42],[22.5,0.43],[22.75,0.43],[23.0,0.42],[23.25,0.42],[23.5,0.43],[23.75,0.44],[24.0,0.45],[24.25,0.45],[24.5,0.46],[24.75,0.46],[25.0,0.46],[25.25,0.46],[25.5,0.46],[25.75,0.46],[26.0,0.47],[26.25,0.47],[26.5,0.46],[26.75,0.46],[27.0,0.46],[27.25,0.46],[27.5,0.45],[27.75,0.44],[28.0,0.44],[28.25,0.44],[28.5,0.45],[28.75,0.45],[29.0,0.46],[29.25,0.46],[29.5,0.48],[29.7,0.48],[29.9,0.46],[30.15,0.45],[30.4,0.44],[30.65,0.44],[30.9,0.45],[31.15,0.45],[31.4,0.44],[31.65,0.44],[31.9,0.43],[32.15,0.43],[32.4,0.42],[32.65,0.42],[32.9,0.41],[33.15,0.4],[33.4,0.37],[33.6,0.38],[33.85,0.42],[34.1,0.42],[34.35,0.41],[34.6,0.41],[34.85,0.41],[35.1,0.41],[35.35,0.42],[35.6,0.42],[35.85,0.44],[36.1,0.44],[36.35,0.43],[36.6,0.44],[36.85,0.46],[37.0,0.47],[37.25,0.44],[37.5,0.42],[37.75,0.39],[38.0,0.37],[38.25,0.38],[38.5,0.4],[38.75,0.43],[39.0,0.45],[39.25,0.43],[39.5,0.41],[39.75,0.4],[40.0,0.39],[40.25,0.4],[40.5,0.41],[40.75,0.42],[41.0,0.42],[41.25,0.43],[41.5,0.44],[41.75,0.46],[42.0,0.47],[42.25,0.45],[42.5,0.44],[42.75,0.43],[43.0,0.42],[43.25,0.45],[43.5,0.48],[43.75,0.53],[44.0,0.55],[44.2,0.55],[44.4,0.51],[44.6,0.47],[44.8,0.46],[45,0.45]];

// Texts
const slipLegendTitles = ['ETT#6','ETT#7','ETT#8','ETT#9','ETT#10','ETT#11'];
const slipNames = ['Slip W1','Slip W2'];
const groupA = ['ETT#6','ETT#7','ETT#8'];
const groupB = ['ETT#9','ETT#10','ETT#11'];
const panelLetters = ['a','b','c'];

// ---------------- STYLE / LAYOUT ----------------
const FONT = '"Liberation Sans", Arial, Helvetica, sans-serif';
const C = {w1:'#24992a', w2:'#c2461d', e6:'#a0a0a0', e7:'#1e5d6f', e8:'#b9570f', e9:'#5b7a32', e10:'#1b2d78', e11:'#f5c000'};

const pairs = (t, v) => t.map((x, i) => [x, v[i]]);
const sampled = (start, step, v) => v.map((y, i) => [+(start + i * step).toFixed(3), y]);

const P = [
  {l:57, t:17,  r:623,  b:267,  x:[5.5,37], ends:false, y:[0,100], yi:20,  yn:'Slip (%)', yg:27, xg:32, sh:9},
  {l:58, t:330, r:624,  b:580,  x:[5.5,37], ends:false, y:[0,100], yi:20,  yn:'Slip (%)', yg:27, xg:33, sh:9},
  {l:57, t:643, r:627,  b:892,  x:[5.2,37], ends:false, y:[0,100], yi:20,  yn:'Slip (%)', yg:29, xg:33, sh:8},
  {l:729,t:16,  r:1282, b:255,  x:[5,45],   ends:true,  y:[0,100], yi:10,  yn:'Slip (%)', yg:31, xg:38, sh:4},
  {l:720,t:321, r:1286, b:564,  x:[5,45],   ends:true,  y:[0,100], yi:10,  yn:'Slip (%)', yg:28, xg:37, sh:9},
  {l:727,t:631, r:1293, b:878,  x:[6,46],   ends:false, y:[0,100], yi:10,  yn:'Slip (%)', yg:27, xg:37, sh:9},
  {l:66, t:985, r:629,  b:1227, x:[5.5,37], ends:false, y:[-85,5000], yi:1000, free:true, yn:'Power (W)', yg:40, xg:32, sh:10},
  {l:740,t:985, r:1289, b:1223, x:[5,45],   ends:true,  y:[-85,5000], yi:1000, free:true, yn:'Power (W)', yg:50, xg:40, sh:0},
  {l:56, t:1323,r:627,  b:1573, x:[5.5,37], ends:false, y:[0,1.5], yi:0.5, yn:'Speed (m/s)', yg:30, xg:35, sh:10},
  {l:726,t:1323,r:1288, b:1566, x:[5,45],   ends:true,  y:[0,1.5], yi:0.5, yn:'Speed (m/s)', yg:33, xg:33, sh:6}
];

const labelStyle = {fontFamily:FONT, fontWeight:'bold', fontSize:17, color:'#000'};
const nameStyle = {fontFamily:FONT, fontWeight:'bold', fontSize:18, color:'#000'};

const grids = [], xAxes = [], yAxes = [];
P.forEach((p, i) => {
  grids.push({left:p.l, top:p.t, width:p.r - p.l, height:p.b - p.t, show:true, borderColor:'#3a3a3a', borderWidth:1, backgroundColor:'#fff'});
  xAxes.push({
    gridIndex:i, type:'value', min:p.x[0], max:p.x[1],
    ...(p.x[0] % 5 === 0 ? {interval:5} : {minInterval:5, maxInterval:5}),
    name:'Time (s)', nameLocation:'middle', nameGap:p.xg,
    nameTextStyle:Object.assign({}, nameStyle, {padding:[0,0,0,2*p.sh]}),
    axisLine:{show:true, onZero:false, lineStyle:{color:'#3a3a3a', width:1}},
    axisTick:{show:true, inside:true, length:5, lineStyle:{color:'#3a3a3a'}},
    axisLabel:Object.assign({}, labelStyle, {margin:10, showMinLabel:p.ends, showMaxLabel:p.ends}),
    splitLine:{show:true, lineStyle:{color:'#bdbdbd', width:1}}
  });
  yAxes.push({
    gridIndex:i, type:'value', min:p.y[0], max:p.y[1],
    ...(p.free ? {minInterval:p.yi, maxInterval:p.yi} : {interval:p.yi}),
    name:p.yn, nameLocation:'middle', nameGap:p.yg, nameRotate:90,
    nameTextStyle:nameStyle,
    axisLine:{show:true, lineStyle:{color:'#3a3a3a', width:1}},
    axisTick:{show:true, inside:true, length:5, lineStyle:{color:'#3a3a3a'}},
    axisLabel:Object.assign({}, labelStyle, {margin:3, showMinLabel:!p.free,
      formatter: v => (Math.abs(v) < 1e-9 ? '0' : String(+v.toFixed(2)))}),
    splitLine:{show:true, lineStyle:{color:'#bdbdbd', width:1}}
  });
});

const series = [];
function add(g, name, color, data, w) {
  series.push({type:'line', name, xAxisIndex:g, yAxisIndex:g, data, symbol:'none', showSymbol:false,
    lineStyle:{color, width:w}, itemStyle:{color}, animation:false, silent:true});
}
const slipSets = [
  [pairs(ett6_t, ett6_w1), pairs(ett6_t, ett6_w2)],
  [pairs(ett7_t, ett7_w1), pairs(ett7_t, ett7_w2)],
  [pairs(ett8_t, ett8_w1), pairs(ett8_t, ett8_w2)],
  [sampled(ett9_start, slipStep, ett9_w1), sampled(ett9_start, slipStep, ett9_w2)],
  [sampled(ett10_start, slipStep, ett10_w1), sampled(ett10_start, slipStep, ett10_w2)],
  [sampled(ett11_start, slipStep, ett11_w1), sampled(ett11_start, slipStep, ett11_w2)]
];
slipSets.forEach((s, g) => { add(g, slipNames[0], C.w1, s[0], 1.5); add(g, slipNames[1], C.w2, s[1], 1.5); });
add(6, groupA[0], C.e6, pow6, 2); add(6, groupA[1], C.e7, pow7, 2); add(6, groupA[2], C.e8, pow8, 2);
add(7, groupB[0], C.e9, pow9, 2); add(7, groupB[1], C.e10, pow10, 2); add(7, groupB[2], C.e11, pow11, 2);
add(8, groupA[0], C.e6, spd6, 2); add(8, groupA[1], C.e7, spd7, 2); add(8, groupA[2], C.e8, spd8, 2);
add(9, groupB[0], C.e9, spd9, 2); add(9, groupB[1], C.e10, spd10, 2); add(9, groupB[2], C.e11, spd11, 2);

// legends
const legBase = {borderColor:'#555', borderWidth:1, backgroundColor:'#fff', itemWidth:17, itemHeight:14,
  icon:'path://M0,0h34v4h-34z', selectedMode:false, z:10};
const slipLeg = [
  {l:521, t:27, pt:22, tx:577, ty:39},
  {l:518, t:342, pt:21, tx:570, ty:354},
  {l:523, t:654, pt:22, tx:577, ty:667},
  {l:1176,t:27, pt:20, tx:1228, ty:37.5},
  {l:1178,t:331, pt:20, tx:1235, ty:342.5},
  {l:1188,t:644, pt:21, tx:1245, ty:654}
];
const legends = slipLeg.map(s => Object.assign({}, legBase, {
  orient:'vertical', left:s.l, top:s.t, padding:[s.pt,6,3,6], itemGap:5,
  textStyle:{fontFamily:FONT, fontWeight:'bold', fontSize:16, color:'#000', lineHeight:16},
  data:slipNames
}));
const hLeg = [
  {l:399, t:993, d:groupA}, {l:1050, t:996, d:groupB},
  {l:394, t:1331, d:groupA}, {l:1038, t:1334, d:groupB}
];
hLeg.forEach(h => legends.push(Object.assign({}, legBase, {
  orient:'horizontal', left:h.l, top:h.t, padding:[3,4,3,4], itemGap:6,
  textStyle:{fontFamily:FONT, fontWeight:'bold', fontSize:15, color:'#000', lineHeight:15},
  data:h.d
})));

const graphics = slipLeg.map((s, i) => ({type:'text', x:s.tx, y:s.ty, z:200,
  style:{text:slipLegendTitles[i], fontFamily:FONT, fontWeight:'bold', fontSize:16, fill:'#000', align:'center', verticalAlign:'middle'}}));
[[666,954],[666,1290],[666,1652]].forEach((pt, i) => graphics.push({type:'text', x:pt[0], y:pt[1], z:200,
  style:{text:panelLetters[i], fontFamily:FONT, fontStyle:'italic', fontSize:19, fill:'#333', align:'center', verticalAlign:'middle'}}));

const chart = echarts.init(document.getElementById('c'), null, {renderer:'canvas'});
chart.setOption({
  animation:false, backgroundColor:'#fff',
  grid:grids, xAxis:xAxes, yAxis:yAxes, series, legend:legends, graphic:graphics
});
</script></body></html>
